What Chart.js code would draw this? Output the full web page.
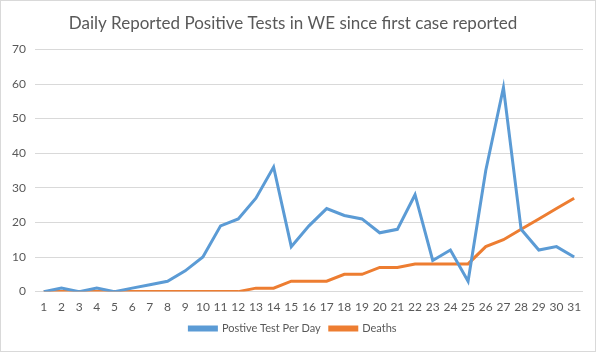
<!DOCTYPE html>
<html>
<head>
<meta charset="utf-8">
<script src="https://cdn.jsdelivr.net/npm/chart.js@4/dist/chart.umd.min.js"></script>
<style>
  html, body { margin: 0; padding: 0; background: #fff; }
  #wrap { width: 596px; height: 352px; box-sizing: border-box; border: 1px solid #d9d9d9; position: relative; }
  canvas { display: block; }
</style>
</head>
<body>
<div id="wrap"><canvas id="chart" width="594" height="350"></canvas></div>
<script>
// Days since first case reported
const days = ["1","2","3","4","5","6","7","8","9","10","11","12","13","14","15","16","17","18","19","20","21","22","23","24","25","26","27","28","29","30","31"];
const positives = [0, 1, 0, 1, 0, 1, 2, 3, 6, 10, 19, 21, 27, 36, 13, 19, 24, 22, 21, 17, 18, 28, 9, 12, 3, 35, 59, 18, 12, 13, 10];
const deaths    = [0, 0, 0, 0, 0, 0, 0, 0, 0, 0, 0, 0, 1, 1, 3, 3, 3, 5, 5, 7, 7, 8, 8, 8, 8, 13, 15, 18, 21, 24, 27];
const yTicks = [0, 10, 20, 30, 40, 50, 60, 70];

const FONT = "Lato, 'Open Sans', sans-serif";
const GREY = '#595959';

new Chart(document.getElementById('chart').getContext('2d'), {
  type: 'line',
  data: {
    labels: days,
    datasets: [
      { label: 'Postive Test Per Day', data: positives, borderColor: '#5b9bd5', backgroundColor: '#5b9bd5',
        borderWidth: 3, pointRadius: 0, tension: 0 },
      { label: 'Deaths', data: deaths, borderColor: '#ed7d31', backgroundColor: '#ed7d31',
        borderWidth: 3, pointRadius: 0, tension: 0 }
    ]
  },
  options: {
    responsive: false,
    animation: false,
    devicePixelRatio: 1,
    layout: { padding: { left: 2, right: 12, top: 6, bottom: 7 } },
    plugins: {
      title: {
        display: true,
        text: 'Daily Reported Positive Tests in WE since first case reported',
        color: GREY,
        font: { family: FONT, size: 17, weight: 'normal' },
        padding: { top: 6, bottom: 16 }
      },
      legend: {
        position: 'bottom',
        labels: { color: GREY, font: { family: FONT, size: 11 }, boxWidth: 27, boxHeight: 3, padding: 9 }
      },
      tooltip: { enabled: false }
    },
    scales: {
      x: {
        offset: true,
        grid: { display: false },
        border: { display: false },
        ticks: { color: GREY, font: { family: FONT, size: 12 }, maxRotation: 0, autoSkip: false, padding: 0 }
      },
      y: {
        min: 0, max: 70,
        afterBuildTicks: axis => { axis.ticks = yTicks.map(v => ({ value: v })); },
        grid: { color: '#d9d9d9', drawTicks: false },
        border: { display: false },
        ticks: { color: GREY, font: { family: FONT, size: 12 }, padding: 9 }
      }
    }
  }
});
</script>
</body>
</html>
